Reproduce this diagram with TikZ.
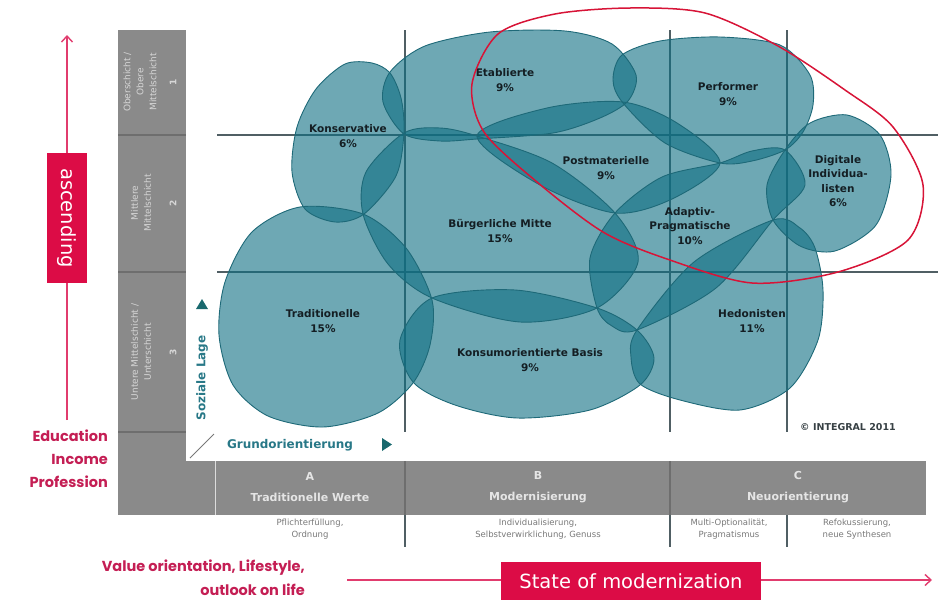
\documentclass[tikz,border=0pt]{standalone}
\usepackage{fontspec}
\setmainfont{DejaVu Sans}
\newfontfamily\rfont{Poppins}
\usetikzlibrary{arrows.meta}
\definecolor{panelgrey}{RGB}{138,138,138}
\definecolor{panelsep}{RGB}{110,110,110}
\definecolor{paneltext}{RGB}{215,215,215}
\definecolor{gridline}{RGB}{80,95,100}
\definecolor{tealfill}{RGB}{13,110,130}
\definecolor{tealline}{RGB}{30,105,120}
\definecolor{tealtext}{RGB}{40,120,135}
\definecolor{tealmark}{RGB}{25,105,110}
\definecolor{labeltext}{RGB}{20,30,35}
\definecolor{redbox}{RGB}{220,12,70}
\definecolor{pinkline}{RGB}{225,60,110}
\definecolor{crimson}{RGB}{196,30,84}
\definecolor{ellred}{RGB}{215,20,55}
\definecolor{subtext}{RGB}{120,120,120}
\newcommand\blobTrad{plot[smooth cycle] coordinates {(300,207) (363,214) (406,248) (432,300) (430,345) (413,383) (378,413) (323,427) (268,416) (233,385) (219,335) (225,282) (252,232)}}
\newcommand\blobKons{plot[smooth cycle] coordinates {(345,64) (372,63) (390,73) (401,98) (404,132) (396,176) (364,214) (335,222) (305,209) (292,172) (297,127) (316,89)}}
\newcommand\blobEtab{plot[smooth cycle] coordinates {(404,134) (383,102) (390,72) (425,46) (490,32) (565,31) (612,44) (636,75) (628,101) (600,118) (553,133) (477,139) (440,141)}}
\newcommand\blobBuerg{plot[smooth cycle] coordinates {(404,133) (440,128) (477,136) (552,163) (615,213) (638,262) (597,308) (520,322) (432,298) (388,264) (363,214) (366,172)}}
\newcommand\blobPost{plot[smooth cycle] coordinates {(477,136) (547,108) (623,102) (677,123) (720,163) (672,199) (615,213) (540,185)}}
\newcommand\blobPerf{plot[smooth cycle] coordinates {(623,103) (613,80) (622,55) (660,41) (720,37) (780,45) (810,75) (813,105) (803,132) (785,150) (752,161) (720,163) (665,143)}}
\newcommand\blobDigi{plot[smooth cycle] coordinates {(847,115) (880,135) (891,175) (876,225) (835,251) (800,246) (773,220) (767,185) (785,150) (810,123)}}
\newcommand\blobAdap{plot[smooth cycle] coordinates {(615,213) (662,177) (720,163) (752,151) (785,150) (805,185) (773,220) (716,288) (637,330) (612,326) (597,308) (590,258)}}
\newcommand\blobHedo{plot[smooth cycle] coordinates {(637,330) (694,262) (773,220) (800,228) (815,248) (823,290) (818,340) (790,388) (740,410) (680,400) (640,384) (631,357)}}
\newcommand\blobKonsum{plot[smooth cycle] coordinates {(432,298) (515,290) (597,308) (637,330) (654,358) (640,385) (590,410) (517,418) (455,405) (413,382) (400,340)}}
\begin{document}
\begin{tikzpicture}[x=1pt,y=-1pt,
  blobfill/.style={fill=tealfill, fill opacity=0.6},
  blobline/.style={draw=tealline, line width=0.9pt},
  gridln/.style={draw=gridline, line width=1.2pt},
  psep/.style={draw=panelsep, line width=1.2pt},
  lbl/.style={font=\fontsize{10.5}{14.5}\selectfont\bfseries, text=labeltext, align=center, inner sep=0pt},
  ptext/.style={font=\fontsize{9}{13}\selectfont, text=paneltext, align=center, inner sep=0pt, rotate=90},
  pnum/.style={font=\fontsize{9}{11}\selectfont\bfseries, text=paneltext, inner sep=0pt, rotate=90},
  bandtext/.style={font=\fontsize{11}{21}\selectfont\bfseries, text=white!90!black, align=center, inner sep=0pt},
  subtxt/.style={font=\fontsize{8.5}{12.5}\selectfont, text=subtext, align=center, inner sep=0pt},
  axistext/.style={font=\fontsize{12}{14}\selectfont\bfseries, text=tealtext, inner sep=0pt},
  redtxt/.style={font=\rfont\bfseries\fontsize{14.5}{22}\selectfont, text=crimson, align=right, inner sep=0pt},
  redbox/.style={fill=redbox, text=white, font=\fontsize{19.5}{22}\selectfont, inner sep=0pt},
  pinkarrow/.style={draw=pinkline, line width=1.4pt, -{Straight Barb[length=6pt,width=11pt,line width=1.4pt]}}
]
\useasboundingbox (0,0) rectangle (938,600);
% grey panels
\fill[panelgrey] (118,30) rectangle (186,515);
\fill[panelgrey] (118,461) rectangle (926,515);
\draw[psep] (118,135) -- (186,135);
\draw[psep] (118,272) -- (186,272);
\draw[psep] (118,432) -- (186,432);
\draw[draw=white!70!panelgrey, line width=1pt] (215,461) -- (215,515);
\draw[psep] (405,461) -- (405,515);
\draw[psep] (670,461) -- (670,515);
% panel texts
\node[ptext] (r1) at (140,82) {Oberschicht /\\Obere\\Mittelschicht};
\node[pnum] (n1) at (173,82) {1};
\node[ptext] (r2) at (141,203) {Mittlere\\Mittelschicht};
\node[pnum] (n2) at (173,203) {2};
\node[ptext] (r3) at (141,352) {Untere Mittelschicht /\\Unterschicht};
\node[pnum] (n3) at (173,352) {3};
% grid
\draw[gridln] (217,135) -- (938,135);
\draw[gridln] (217,272) -- (938,272);
\draw[gridln] (405,30) -- (405,432);
\draw[gridln] (670,30) -- (670,432);
\draw[gridln] (787,30) -- (787,432);
\draw[gridln] (405,515) -- (405,547);
\draw[gridln] (670,515) -- (670,547);
\draw[gridln] (787,515) -- (787,547);
% blobs
\fill[blobfill] \blobTrad;
\fill[blobfill] \blobKons;
\fill[blobfill] \blobEtab;
\fill[blobfill] \blobBuerg;
\fill[blobfill] \blobPost;
\fill[blobfill] \blobPerf;
\fill[blobfill] \blobDigi;
\fill[blobfill] \blobAdap;
\fill[blobfill] \blobHedo;
\fill[blobfill] \blobKonsum;
\draw[blobline] \blobTrad;
\draw[blobline] \blobKons;
\draw[blobline] \blobEtab;
\draw[blobline] \blobBuerg;
\draw[blobline] \blobPost;
\draw[blobline] \blobPerf;
\draw[blobline] \blobDigi;
\draw[blobline] \blobAdap;
\draw[blobline] \blobHedo;
\draw[blobline] \blobKonsum;
% labels
\node[lbl] (etab) at (505,80) {Etablierte\\9\%};
\node[lbl] (perf) at (728,94) {Performer\\9\%};
\node[lbl] (kons) at (348,136) {Konservative\\6\%};
\node[lbl] (post) at (606,168) {Postmaterielle\\9\%};
\node[lbl] (digi) at (838,181) {Digitale\\Individua-\\listen\\6\%};
\node[lbl] (adap) at (690,226) {Adaptiv-\\Pragmatische\\10\%};
\node[lbl] (buerg) at (500,231) {Bürgerliche Mitte\\15\%};
\node[lbl] (trad) at (323,321) {Traditionelle\\15\%};
\node[lbl] (konsum) at (530,360) {Konsumorientierte Basis\\9\%};
\node[lbl] (hedo) at (752,321) {Hedonisten\\11\%};
\node[font=\fontsize{9.5}{11}\selectfont\bfseries, text=labeltext!85!white, inner sep=0pt] (copy) at (848,427) {© INTEGRAL 2011};
% red ellipse
\draw[ellred, line width=1.5pt] plot[smooth cycle] coordinates {(472,84) (498,34) (555,14) (630,8) (705,13) (778,46) (845,90) (893,127) (923,185) (908,240) (838,272) (752,283) (667,259) (603,232) (537,182) (484,132)};
% axis labels
\node[axistext, rotate=90] (soz) at (202,378) {Soziale Lage};
\fill[tealmark] (196,309) -- (208,309) -- (202,299) -- cycle;
\node[axistext] (grund) at (290,445) {Grundorientierung};
\fill[tealmark] (382,438) -- (382,451) -- (392,444.5) -- cycle;
\draw[draw=subtext, line width=1pt] (190,458) -- (214,434);
% band texts
\node[bandtext] (colA) at (310,487) {A\\Traditionelle Werte};
\node[bandtext] (colB) at (538,487) {B\\Modernisierung};
\node[bandtext] (colC) at (798,487) {C\\Neuorientierung};
\node[subtxt] (subA) at (310,529) {Pflichterfüllung,\\Ordnung};
\node[subtxt] (subB) at (538,529) {Individualisierung,\\Selbstverwirklichung, Genuss};
\node[subtxt] (subC1) at (729,529) {Multi-Optionalität,\\Pragmatismus};
\node[subtxt] (subC2) at (857,529) {Refokussierung,\\neue Synthesen};
% left axis
\coordinate (vbot) at (67,420);
\coordinate (vtop) at (67,35);
\draw[pinkarrow] (vbot) -- (vtop);
\node[redbox, rotate=-90, minimum width=130pt, minimum height=40pt] (asc) at (67,218) {ascending};
\node[redtxt, anchor=east] (edu) at (108,436) {Education};
\node[redtxt, anchor=east] (inc) at (108,459) {Income};
\node[redtxt, anchor=east] (prof) at (108,482) {Profession};
% bottom axis
\coordinate (hl) at (347,580);
\coordinate (hr) at (932,580);
\draw[pinkarrow] (hl) -- (hr);
\node[redbox, minimum width=260pt, minimum height=39pt] (state) at (631,581) {State of modernization};
\node[redtxt, anchor=east] (val1) at (305,568) {Value orientation, Lifestyle,};
\node[redtxt, anchor=east] (val2) at (305,590) {outlook on life};
\end{tikzpicture}
\end{document}
